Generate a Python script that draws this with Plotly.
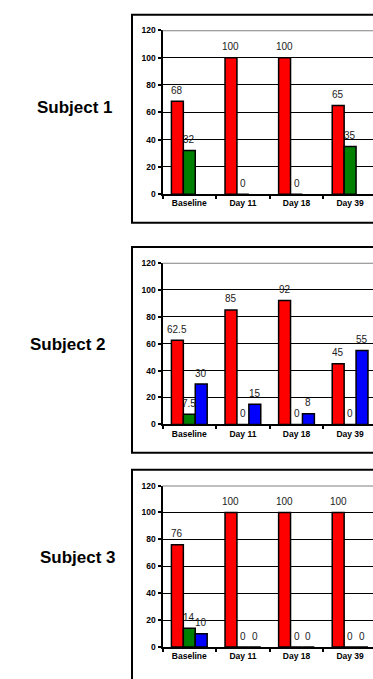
import plotly.graph_objects as go

# Chart data
days = ["Baseline", "Day 11", "Day 18", "Day 39"]
subjects = ["Subject 1", "Subject 2", "Subject 3"]
red_vals = [[68, 100, 100, 65], [62.5, 85, 92, 45], [76, 100, 100, 100]]
green_vals = [[32, 0, 0, 35], [7.5, 0, 0, 0], [14, 0, 0, 0]]
blue_vals = [[None, None, None, None], [30, 15, 8, 55], [10, 0, 0, 0]]
y_ticks = [0, 20, 40, 60, 80, 100, 120]

series = [("red", red_vals, "#ff0000"),
          ("green", green_vals, "#008000"),
          ("blue", blue_vals, "#0000ff")]

W, H = 373, 679
FONT = "Liberation Sans, Arial, sans-serif"
BARGAP = 0.333


def px(x):
    return x / W


def py(y):
    return 1 - y / H


# pixel layout of each panel: plot area top/bottom, frame top/bottom, label centre
panels = [
    dict(plot=(25.7, 192.0), box=(10, 221), label=(75, 104)),
    dict(plot=(261.7, 425.7), box=(245.7, 454.5), label=(68, 345)),
    dict(plot=(487.7, 651.7), box=(471.7, 720), label=(78, 561)),
]

x_left = 162.5
cat_px = 53.6
x_span = (W - x_left) / cat_px

fig = go.Figure()
shapes = []
annotations = []
bar_w = (1 - BARGAP) / len(series)

for p, panel in enumerate(panels):
    xa = "x" if p == 0 else f"x{p + 1}"
    ya = "y" if p == 0 else f"y{p + 1}"
    for k, (name, vals, color) in enumerate(series):
        fig.add_trace(go.Bar(
            x=days, y=vals[p], name=name, xaxis=xa, yaxis=ya,
            marker=dict(color=color, line=dict(color="black", width=1.5)),
            showlegend=False, hoverinfo="skip"))
        for i, v in enumerate(vals[p]):
            if v is None:
                continue
            annotations.append(dict(
                xref=xa, yref=ya, x=i + (k - 1) * bar_w, y=v,
                text=f"{v:g}", showarrow=False, yanchor="middle",
                xanchor="center", yshift=11,
                font=dict(family=FONT, size=10, color="#222222")))

    top, bottom = panel["plot"]
    axis_suffix = "" if p == 0 else str(p + 1)
    fig.update_layout(**{
        f"xaxis{axis_suffix}": dict(
            domain=[px(x_left), 1], anchor=ya, type="category",
            categoryorder="array", categoryarray=days,
            range=[-0.5, -0.5 + x_span], tickson="boundaries",
            ticks="outside", ticklen=3, tickwidth=1.5, tickcolor="black",
            showline=True, linecolor="black", linewidth=2, showgrid=False,
            tickfont=dict(family=FONT, size=8.5, color="black", weight="bold")),
        f"yaxis{axis_suffix}": dict(
            domain=[py(bottom), py(top)], anchor=xa, range=[0, 120],
            tickvals=y_ticks, ticks="outside", ticklen=3, tickwidth=1.5,
            tickcolor="black", showline=True, linecolor="black", linewidth=2,
            showgrid=True, gridcolor="black", gridwidth=1.2, zeroline=False,
            tickfont=dict(family=FONT, size=8.5, color="black", weight="bold")),
    })

    # grey top line at the 120 mark
    shapes.append(dict(type="line", xref=f"{xa} domain", yref=ya,
                       x0=0, x1=1, y0=120, y1=120,
                       line=dict(color="#808080", width=2)))
    # chart frame
    b0, b1 = panel["box"]
    shapes.append(dict(type="rect", xref="paper", yref="paper",
                       x0=px(132), x1=1.2, y0=py(b1), y1=py(b0),
                       line=dict(color="black", width=2)))
    lx, ly = panel["label"]
    annotations.append(dict(
        xref="paper", yref="paper", x=px(lx), y=py(ly), text=subjects[p],
        showarrow=False, xanchor="center", yanchor="middle",
        font=dict(family=FONT, size=17, color="black", weight="bold")))

fig.update_layout(
    width=W, height=H, margin=dict(l=0, r=0, t=0, b=0),
    paper_bgcolor="white", plot_bgcolor="white",
    barmode="group", bargap=BARGAP, bargroupgap=0,
    shapes=shapes, annotations=annotations, showlegend=False)

fig.write_html("out.html")
